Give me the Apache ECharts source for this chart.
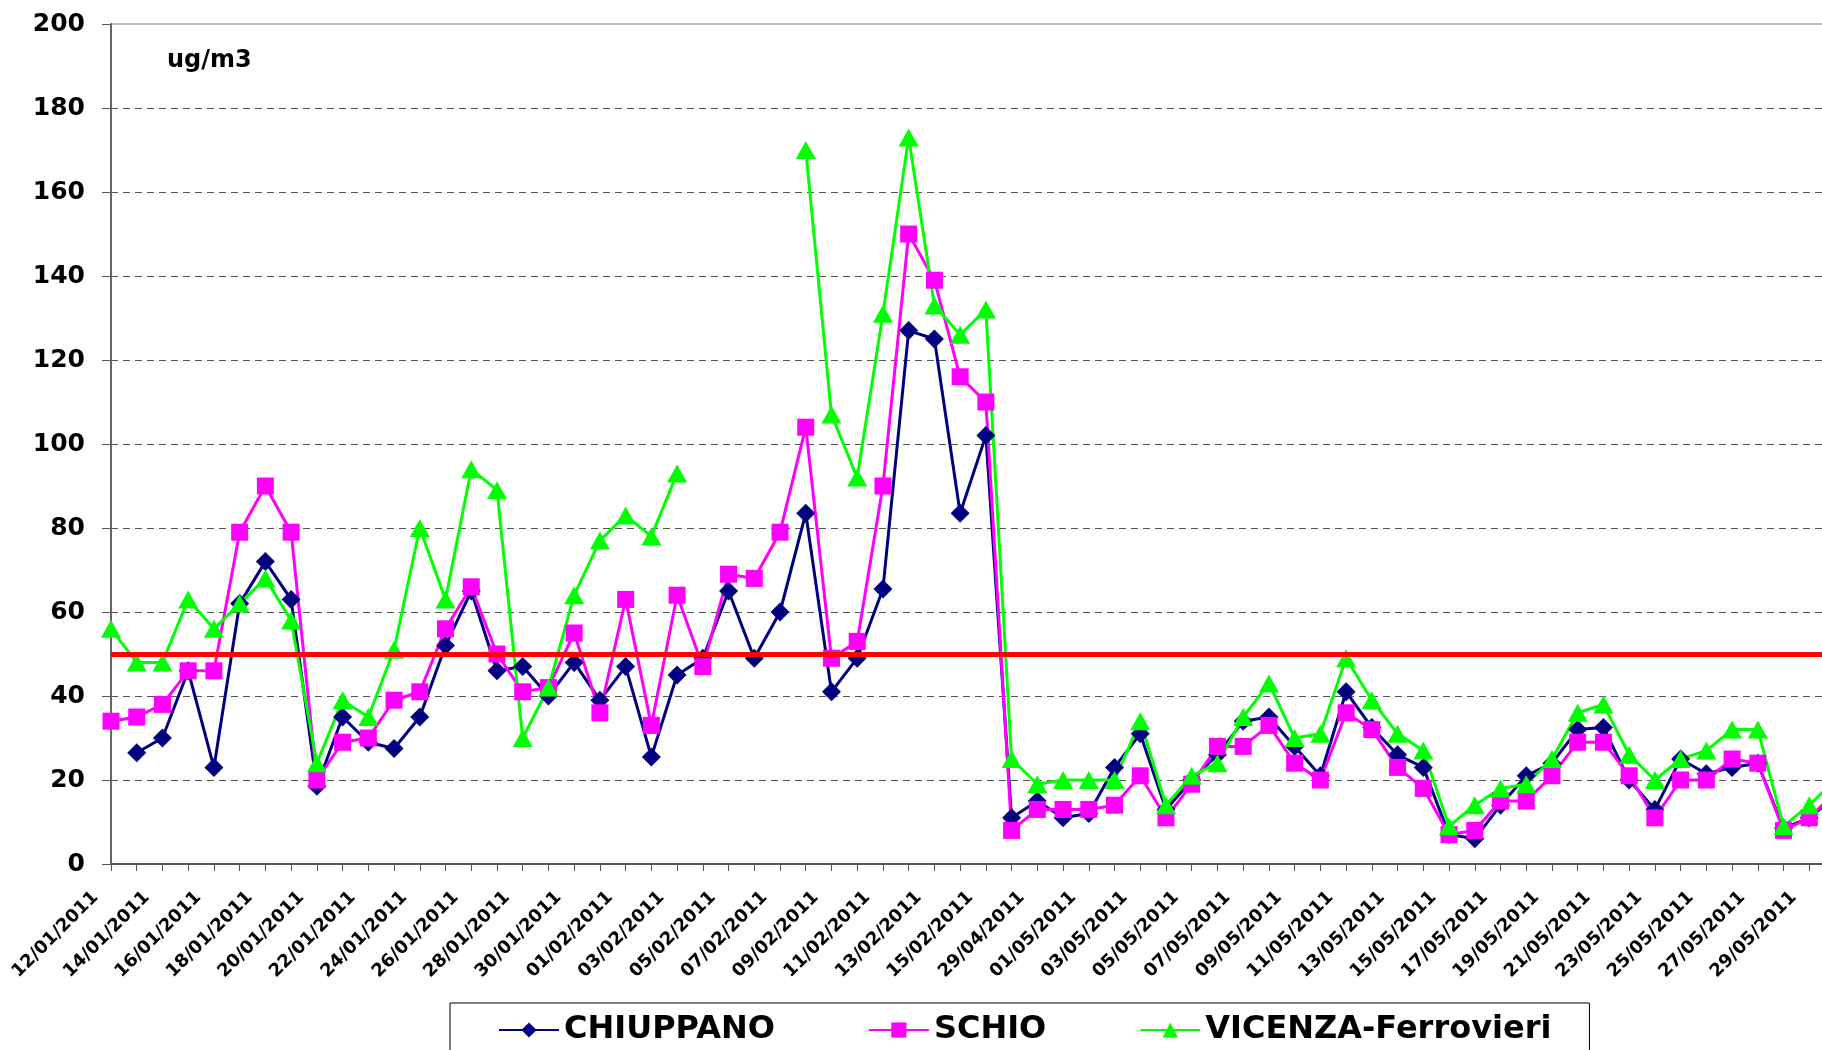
<!DOCTYPE html>
<html>
<head>
<meta charset="utf-8">
<title>PM10 - CHIUPPANO, SCHIO, VICENZA-Ferrovieri</title>
<script src="https://cdn.jsdelivr.net/npm/echarts@6/dist/echarts.min.js"></script>
<style>
    html, body { margin: 0; padding: 0; background: #fff; }
    #grafico { width: 1822px; height: 1050px; }
</style>
</head>
<body>
<div id="grafico"></div>
<script>
var fechas = [
    '12/01/2011', '13/01/2011', '14/01/2011', '15/01/2011', '16/01/2011', '17/01/2011', '18/01/2011', '19/01/2011',
    '20/01/2011', '21/01/2011', '22/01/2011', '23/01/2011', '24/01/2011', '25/01/2011', '26/01/2011', '27/01/2011',
    '28/01/2011', '29/01/2011', '30/01/2011', '31/01/2011', '01/02/2011', '02/02/2011', '03/02/2011', '04/02/2011',
    '05/02/2011', '06/02/2011', '07/02/2011', '08/02/2011', '09/02/2011', '10/02/2011', '11/02/2011', '12/02/2011',
    '13/02/2011', '14/02/2011', '15/02/2011', '28/04/2011', '29/04/2011', '30/04/2011', '01/05/2011', '02/05/2011',
    '03/05/2011', '04/05/2011', '05/05/2011', '06/05/2011', '07/05/2011', '08/05/2011', '09/05/2011', '10/05/2011',
    '11/05/2011', '12/05/2011', '13/05/2011', '14/05/2011', '15/05/2011', '16/05/2011', '17/05/2011', '18/05/2011',
    '19/05/2011', '20/05/2011', '21/05/2011', '22/05/2011', '23/05/2011', '24/05/2011', '25/05/2011', '26/05/2011',
    '27/05/2011', '28/05/2011', '29/05/2011', '30/05/2011'
];

var chiuppano = [
    null, 26.5, 30, 46, 23, 62, 72, 63, 18.5, 35, 29, 27.5, 35, 52, 65, 46,
    47, 40, 48, 39, 47, 25.5, 45, 49, 65, 49, 60, 83.5, 41, 49, 65.5, 127,
    125, 83.5, 102, 11, 15, 11, 12, 23, 31, 13, 20, 26, 34, 35, 28, 21,
    41, 32.5, 26, 23, 7, 6, 14, 21, 24, 32, 32.5, 20, 13, 25, 21.5, 23,
    24, 8.5, 11, 16
];

var schio = [
    34, 35, 38, 46, 46, 79, 90, 79, 20, 29, 30, 39, 41, 56, 66, 50,
    41, 42, 55, 36, 63, 33, 64, 47, 69, 68, 79, 104, 49, 53, 90, 150,
    139, 116, 110, 8, 13, 13, 13, 14, 21, 11, 19, 28, 28, 33, 24, 20,
    36, 32, 23, 18, 7, 8, 15, 15, 21, 29, 29, 21, 11, 20, 20, 25,
    24, 8, 11, 17
];

var vicenza = [
    56, 48, 48, 63, 56, 62, 68, 58, 24, 39, 35, 51, 80, 63, 94, 89,
    30, 42, 64, 77, 83, 78, 93, null, null, null, null, 170, 107, 92, 131, 173,
    133, 126, 132, 25, 19, 20, 20, 20, 34, 14, 21, 24, 35, 43, 30, 31,
    49, 39, 31, 27, 9, 14, 18, 19, 25, 36, 38, 26, 20, 25, 27, 32,
    32, 9, 14, 20
];

// valore limite giornaliero
var limite = 50;
var nomiSerie = ['CHIUPPANO', 'SCHIO', 'VICENZA-Ferrovieri'];

var font = 'DejaVu Sans';

function serieLinea(nome, dati, colore, simbolo, dim) {
    return {
        name: nome,
        type: 'line',
        data: dati,
        symbol: simbolo,
        symbolSize: dim,
        showAllSymbol: true,
        connectNulls: false,
        lineStyle: { color: colore, width: 3 },
        itemStyle: { color: colore },
        emphasis: { disabled: true },
        animation: false
    };
}

var chartDom = document.getElementById('grafico');
var myChart = echarts.init(chartDom, null, { renderer: 'canvas' });

myChart.setOption({
    animation: false,
    backgroundColor: '#fff',
    textStyle: { fontFamily: font },
    // l'area del grafico continua oltre il bordo destro
    grid: {
        left: 111,
        top: 24,
        width: 1724,
        height: 840,
        outerBoundsMode: 'none',
        show: true,
        borderColor: '#808080',
        borderWidth: 1
    },
    graphic: [{
        type: 'text',
        x: 167,
        y: 61,
        style: {
            text: 'ug/m3',
            font: 'bold 24px "DejaVu Sans"',
            fill: '#000',
            verticalAlign: 'middle'
        }
    }],
    legend: {
        data: nomiSerie,
        left: 450,
        top: 1003,
        orient: 'horizontal',
        padding: [11, 38, 14, 48],
        itemGap: 93,
        itemWidth: 60,
        itemHeight: 19,
        borderColor: '#000',
        borderWidth: 1,
        backgroundColor: '#fff',
        textStyle: { fontFamily: font, fontWeight: 'bold', fontSize: 32, color: '#000' }
    },
    xAxis: {
        type: 'category',
        data: fechas,
        boundaryGap: false,
        axisLine: { lineStyle: { color: '#555', width: 2 } },
        axisTick: { show: true, interval: 0, length: 7, lineStyle: { color: '#555', width: 1 } },
        axisLabel: {
            interval: 1,
            rotate: 45,
            margin: 15,
            padding: [0, 22, 0, 0],
            fontFamily: font,
            fontWeight: 'bold',
            fontSize: 18,
            color: '#000'
        },
        splitLine: { show: false }
    },
    yAxis: {
        type: 'value',
        min: 0,
        max: 200,
        interval: 20,
        axisLine: { show: true, lineStyle: { color: '#666', width: 2 } },
        axisTick: { show: true, length: 9, lineStyle: { color: '#555' } },
        axisLabel: {
            margin: 26,
            fontFamily: font,
            fontWeight: 'bold',
            fontSize: 25,
            color: '#000'
        },
        splitLine: {
            show: true,
            showMaxLine: false,
            lineStyle: { color: '#555', width: 1, type: [7, 5] }
        }
    },
    series: [
        {
            name: 'limite',
            type: 'line',
            data: [],
            silent: true,
            markLine: {
                silent: true,
                symbol: ['none', 'none'],
                label: { show: false },
                lineStyle: { color: '#ff0000', width: 5, type: 'solid' },
                data: [{ yAxis: limite }]
            }
        },
        serieLinea(nomiSerie[0], chiuppano, '#000080', 'diamond', 19),
        serieLinea(nomiSerie[1], schio, '#ff00ff', 'rect', 17),
        serieLinea(nomiSerie[2], vicenza, '#00ff00', 'triangle', [20, 18])
    ]
});
</script>
</body>
</html>
